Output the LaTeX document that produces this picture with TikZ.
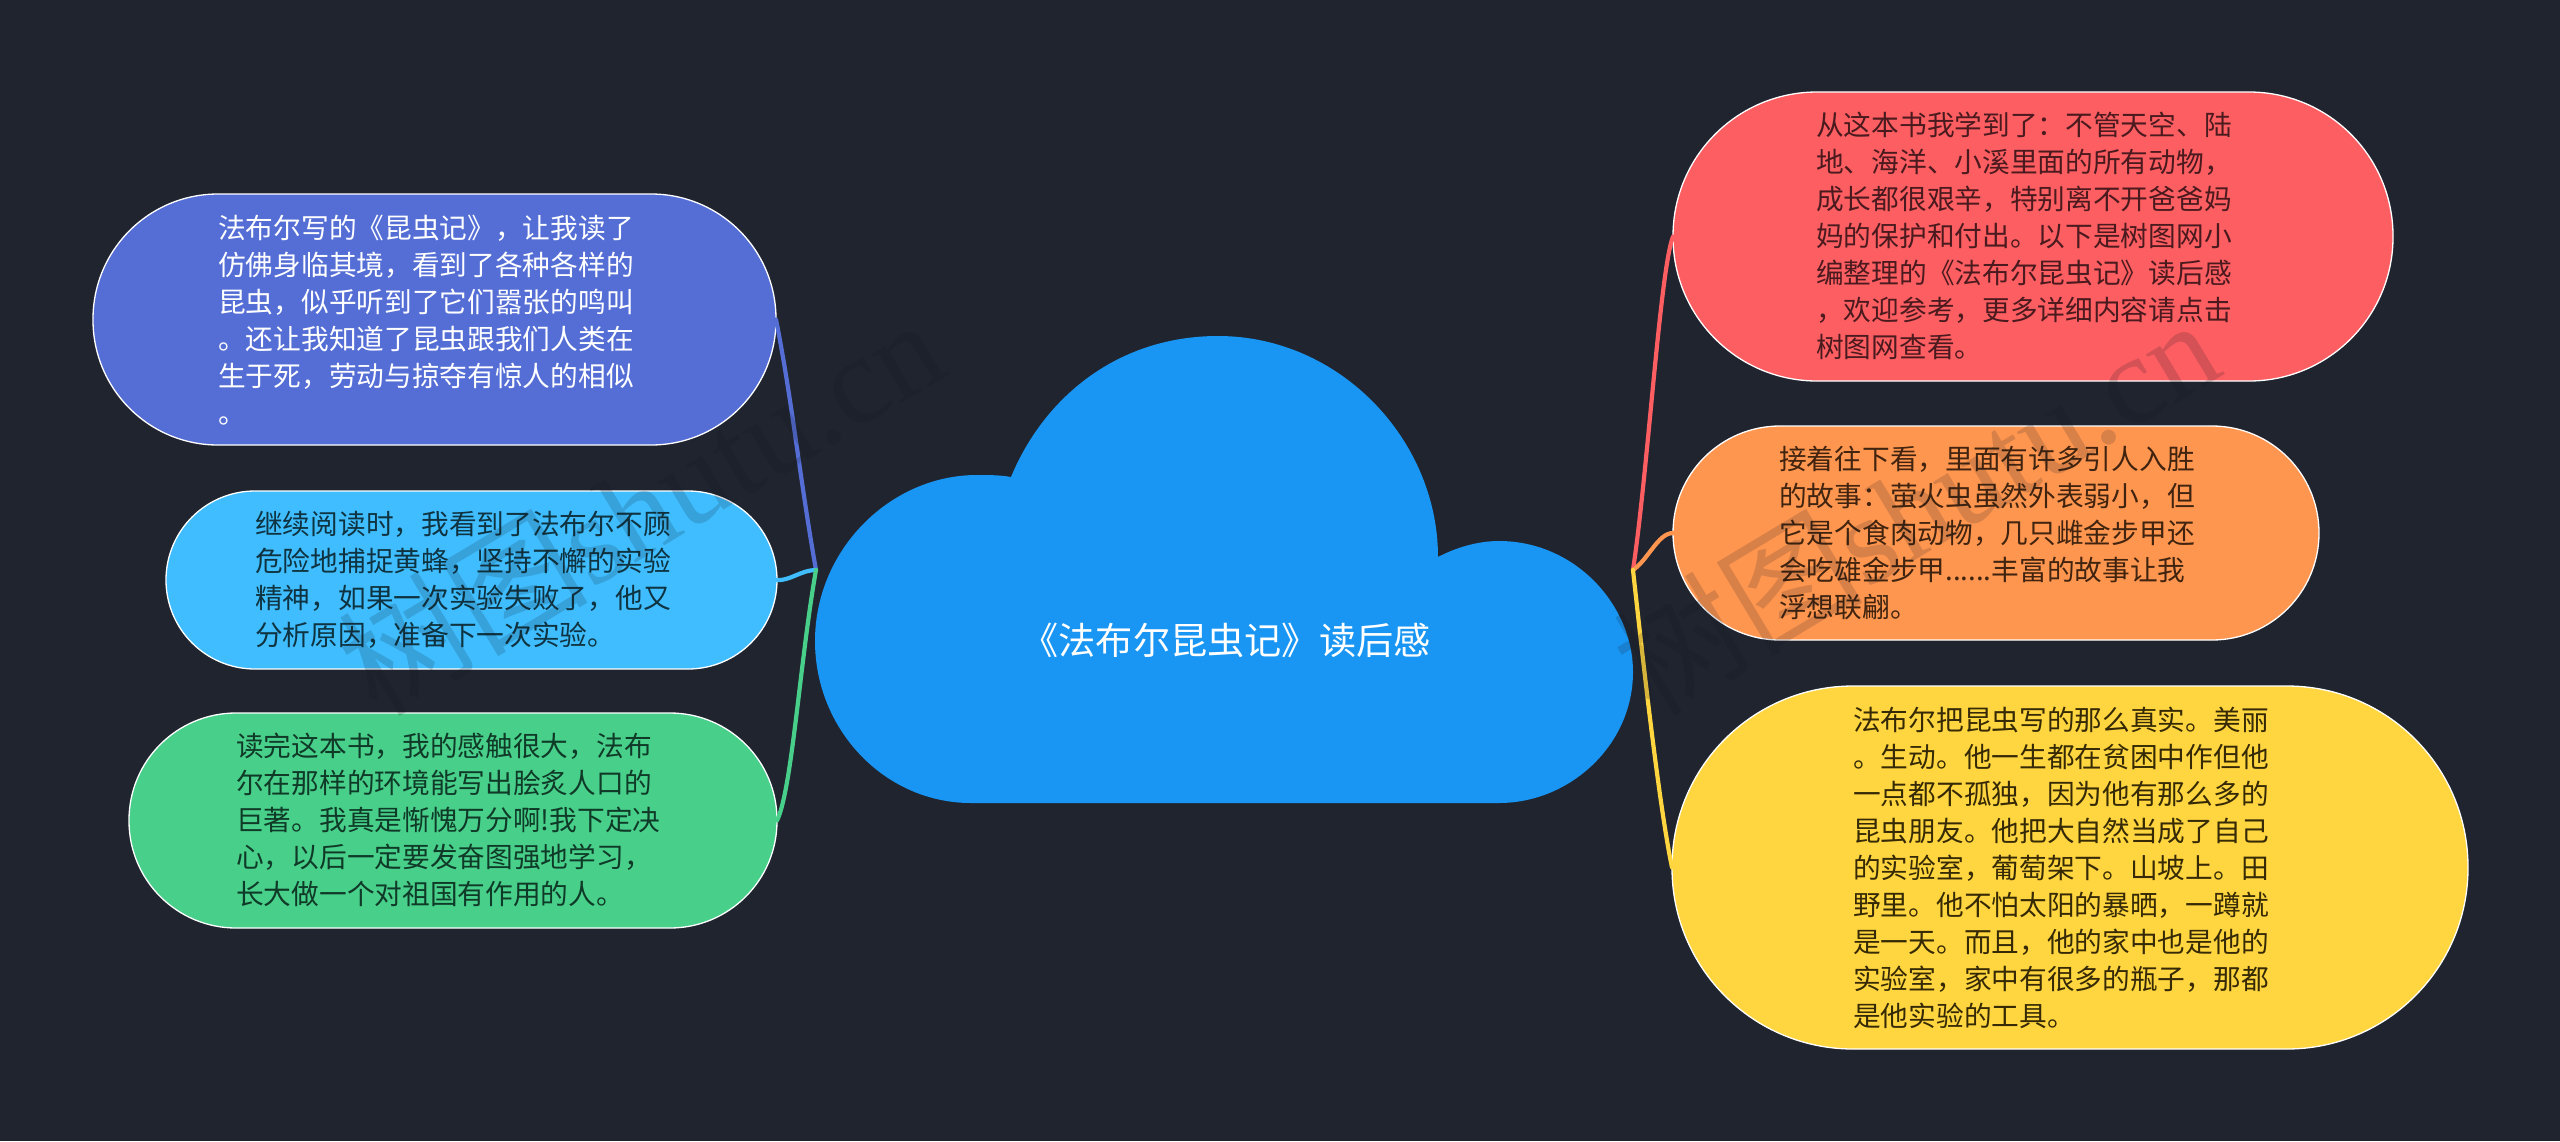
\documentclass[tikz,border=0pt]{standalone}
\usepackage{fontspec}
\setmainfont{Noto Sans CJK SC}
\newfontfamily\wmfont{Liberation Serif}
\definecolor{bgc}{HTML}{20242F}
\definecolor{cloudc}{HTML}{1996F3}
\definecolor{nA}{HTML}{546ED6}
\definecolor{nB}{HTML}{3FBDFF}
\definecolor{nC}{HTML}{48CF8A}
\definecolor{nD}{HTML}{FC5E62}
\definecolor{nE}{HTML}{FF9650}
\definecolor{nF}{HTML}{FFD540}
\definecolor{tB}{HTML}{0F3340}
\definecolor{tC}{HTML}{103A28}
\definecolor{tD}{HTML}{4A1A1E}
\definecolor{tE}{HTML}{40240F}
\definecolor{tF}{HTML}{352A05}
\definecolor{wmc}{HTML}{14171F}
\tikzset{
  bubble/.style={draw=white,line width=1.3pt,inner sep=0pt,outer sep=0pt},
  bodytext/.style={anchor=west,align=left,inner sep=0pt,font=\fontsize{27.7}{37}\selectfont},
  linkline/.style={line width=4.2pt,line cap=round},
  watermark/.style={rotate=31,opacity=0.17,text=wmc,inner sep=0pt}
}
\begin{document}
\begin{tikzpicture}[x=1pt,y=-1pt]
\useasboundingbox (0,0) rectangle (2560,1141);
\fill[bgc] (0,0) rectangle (2560,1141);
\fill[cloudc] (971,803) .. controls (885,803) and (815,730) .. (815,641)
  .. controls (815,550) and (890,475) .. (977,475)
  .. controls (988,475) and (1000,475) .. (1011,477)
  .. controls (1045,395) and (1120,336) .. (1218,336)
  .. controls (1340,336) and (1438,440) .. (1438,557)
  .. controls (1455,548) and (1477,541) .. (1499,541)
  .. controls (1575,541) and (1633,605) .. (1633,672)
  .. controls (1633,745) and (1570,803) .. (1499,803) -- cycle;
\node[text=white,inner sep=0pt,font=\fontsize{37.2}{44}\selectfont] (root) at (1226,640) {《法布尔昆虫记》读后感};
\coordinate (hubl) at (816,570);
\coordinate (hubr) at (1633,570);
\node[bubble,fill=nA,minimum width=683pt,minimum height=251pt,rounded corners=125pt] (n1) at (434.5,319.5) {};
\node[bubble,fill=nB,minimum width=611pt,minimum height=178pt,rounded corners=89pt] (n2) at (471.5,580) {};
\node[bubble,fill=nC,minimum width=648pt,minimum height=215pt,rounded corners=107pt] (n3) at (453,820.5) {};
\node[bubble,fill=nD,minimum width=720pt,minimum height=289pt,rounded corners=144pt] (r1) at (2033,236.5) {};
\node[bubble,fill=nE,minimum width=646pt,minimum height=214pt,rounded corners=107pt] (r2) at (1996,533) {};
\node[bubble,fill=nF,minimum width=796pt,minimum height=363pt,rounded corners=181pt] (r3) at (2070,867.5) {};
\draw[linkline,nA] (n1.east) .. controls (792,400) and (800,480) .. (hubl);
\draw[linkline,nB] (n2.east) .. controls (790,581) and (801,570) .. (hubl);
\draw[linkline,nC] (n3.east) .. controls (792,790) and (800,660) .. (hubl);
\draw[linkline,nD] (r1.west) .. controls (1660,270) and (1648,470) .. (hubr);
\draw[linkline,nE] (r2.west) .. controls (1658,533) and (1648,560) .. (hubr);
\draw[linkline,nF] (r3.west) .. controls (1660,810) and (1645,680) .. (hubr);
\node[bodytext,text=white] (t1) at (218,320) {法布尔写的《昆虫记》，让我读了\\仿佛身临其境，看到了各种各样的\\昆虫，似乎听到了它们嚣张的鸣叫\\。还让我知道了昆虫跟我们人类在\\生于死，劳动与掠夺有惊人的相似\\。};
\node[bodytext,text=tB] (t2) at (255,580) {继续阅读时，我看到了法布尔不顾\\危险地捕捉黄蜂，坚持不懈的实验\\精神，如果一次实验失败了，他又\\分析原因，准备下一次实验。};
\node[bodytext,text=tC] (t3) at (236,820) {读完这本书，我的感触很大，法布\\尔在那样的环境能写出脍炙人口的\\巨著。我真是惭愧万分啊!我下定决\\心，以后一定要发奋图强地学习，\\长大做一个对祖国有作用的人。};
\node[bodytext,text=tD] (t4) at (1816,236) {从这本书我学到了：不管天空、陆\\地、海洋、小溪里面的所有动物，\\成长都很艰辛，特别离不开爸爸妈\\妈的保护和付出。以下是树图网小\\编整理的《法布尔昆虫记》读后感\\，欢迎参考，更多详细内容请点击\\树图网查看。};
\node[bodytext,text=tE] (t5) at (1779,533) {接着往下看，里面有许多引人入胜\\的故事：萤火虫虽然外表弱小，但\\它是个食肉动物，几只雌金步甲还\\会吃雄金步甲......丰富的故事让我\\浮想联翩。};
\node[bodytext,text=tF] (t6) at (1853,867.5) {法布尔把昆虫写的那么真实。美丽\\。生动。他一生都在贫困中作但他\\一点都不孤独，因为他有那么多的\\昆虫朋友。他把大自然当成了自己\\的实验室，葡萄架下。山坡上。田\\野里。他不怕太阳的暴晒，一蹲就\\是一天。而且，他的家中也是他的\\实验室，家中有很多的瓶子，那都\\是他实验的工具。};
\node[watermark] (w1) at (640,505) {\fontsize{125}{125}\selectfont 树图\wmfont shutu.cn};
\node[watermark] (w2) at (1915,505) {\fontsize{125}{125}\selectfont 树图\wmfont shutu.cn};
\end{tikzpicture}
\end{document}
